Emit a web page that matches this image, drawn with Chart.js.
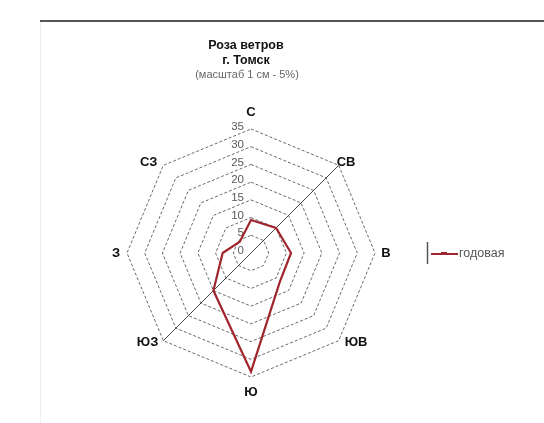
<!DOCTYPE html>
<html>
<head>
<meta charset="utf-8">
<script src="https://cdn.jsdelivr.net/npm/chart.js@4/dist/chart.umd.min.js"></script>
<style>
  html, body { margin: 0; padding: 0; background: #fff; }
  #wrap { position: relative; width: 544px; height: 423px; }
  canvas { position: absolute; left: 0; top: 0; }
</style>
</head>
<body>
<div id="wrap"><canvas id="c" width="544" height="423"></canvas></div>
<script>
// ---- data ----
const directions = ['С', 'СВ', 'В', 'ЮВ', 'Ю', 'ЮЗ', 'З', 'СЗ'];
const annualValues = [9.3, 10, 11.3, 11.5, 33.5, 15, 8, 4.5];
const seriesName = 'годовая';
const titleLines = ['Роза ветров', 'г. Томск'];
const subtitleText = '(масштаб 1 см - 5%)';
const scaleMin = 0;
const scaleMax = 35;
const scaleStep = 5;

const FONT = '"Liberation Sans", Arial, sans-serif';
const RED = '#a0262e';

// offsets of direction labels from the outer vertex: [dx, dy, align]
const labelPlacement = [
  [0, -17, 'center'],
  [-2, -3, 'left'],
  [11, 0, 'center'],
  [6, 2, 'left'],
  [0, 15, 'center'],
  [-5, 2, 'right'],
  [-11, 0, 'center'],
  [-6, -3, 'right']
];

const decorPlugin = {
  id: 'decor',
  beforeDatasetsDraw(chart) {
    const ctx = chart.ctx;
    const s = chart.scales.r;
    // frame
    ctx.save();
    ctx.strokeStyle = '#eeeeee';
    ctx.lineWidth = 1;
    ctx.beginPath(); ctx.moveTo(40.5, 20); ctx.lineTo(40.5, 423); ctx.stroke();
    ctx.strokeStyle = '#555555';
    ctx.lineWidth = 2;
    ctx.beginPath(); ctx.moveTo(40, 21); ctx.lineTo(544, 21); ctx.stroke();
    // diagonal axis line (ЮЗ - СВ)
    const p1 = s.getPointPositionForValue(5, scaleMax);
    const p2 = s.getPointPositionForValue(1, scaleMax);
    ctx.strokeStyle = '#444444';
    ctx.lineWidth = 1;
    ctx.beginPath(); ctx.moveTo(p1.x, p1.y); ctx.lineTo(p2.x, p2.y); ctx.stroke();
    // tick labels, left of vertical axis
    ctx.fillStyle = '#5a5a5a';
    ctx.font = '11.5px ' + FONT;
    ctx.textAlign = 'right';
    ctx.textBaseline = 'middle';
    s.ticks.forEach(t => {
      const d = s.getDistanceFromCenterForValue(t.value);
      ctx.fillText(t.label, s.xCenter - 7, s.yCenter - d - 2);
    });
    ctx.restore();
  },
  afterDraw(chart) {
    const ctx = chart.ctx;
    const s = chart.scales.r;
    ctx.save();
    // direction labels
    ctx.fillStyle = '#111111';
    ctx.font = 'bold 13px ' + FONT;
    ctx.textBaseline = 'middle';
    directions.forEach((lab, i) => {
      const p = s.getPointPositionForValue(i, scaleMax);
      const [dx, dy, al] = labelPlacement[i];
      ctx.textAlign = al;
      ctx.fillText(lab, p.x + dx, p.y + dy);
    });
    // title
    ctx.textAlign = 'center';
    ctx.fillStyle = '#111111';
    ctx.font = 'bold 12.5px ' + FONT;
    ctx.fillText(titleLines[0], 246, 46);
    ctx.fillText(titleLines[1], 246, 61);
    ctx.fillStyle = '#666666';
    ctx.font = '11px ' + FONT;
    ctx.fillText(subtitleText, 247, 75);
    // legend
    ctx.strokeStyle = '#555555';
    ctx.lineWidth = 1.5;
    ctx.beginPath(); ctx.moveTo(427.5, 242); ctx.lineTo(427.5, 264); ctx.stroke();
    ctx.strokeStyle = RED;
    ctx.lineWidth = 2;
    ctx.beginPath(); ctx.moveTo(431, 254); ctx.lineTo(458, 254); ctx.stroke();
    ctx.fillStyle = RED;
    ctx.fillRect(441, 252, 6, 3);
    ctx.fillStyle = '#555555';
    ctx.font = '12.5px ' + FONT;
    ctx.textAlign = 'left';
    ctx.fillText(seriesName, 459, 254);
    ctx.restore();
  }
};

new Chart(document.getElementById('c'), {
  type: 'radar',
  data: {
    labels: directions,
    datasets: [{
      label: seriesName,
      data: annualValues,
      borderColor: RED,
      borderWidth: 2.2,
      backgroundColor: 'transparent',
      fill: false,
      pointRadius: 0,
      tension: 0
    }]
  },
  options: {
    responsive: false,
    animation: false,
    devicePixelRatio: 1,
    layout: { padding: { left: 127, right: 169, top: 129, bottom: 45 } },
    plugins: {
      legend: { display: false },
      title: { display: false },
      tooltip: { enabled: false }
    },
    scales: {
      r: {
        min: scaleMin,
        max: scaleMax,
        ticks: { stepSize: scaleStep, display: false },
        pointLabels: { display: false },
        angleLines: { display: false },
        grid: { color: '#6a6a6a', lineWidth: 1 },
        border: { dash: [3, 2] }
      }
    }
  },
  plugins: [decorPlugin]
});
</script>
</body>
</html>
